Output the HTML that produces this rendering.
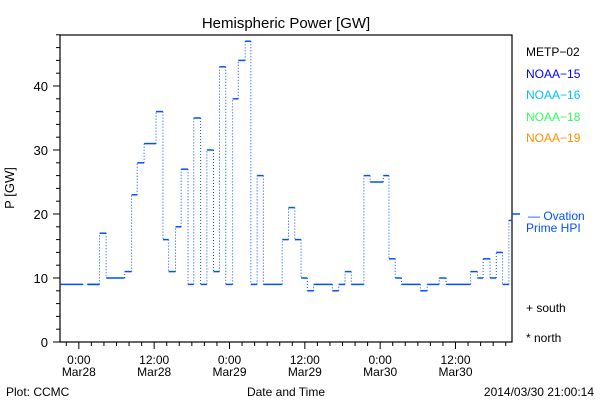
<!DOCTYPE html>
<html><head><meta charset="utf-8"><style>
body{margin:0;background:#fff;}
svg{display:block;font-family:"Liberation Sans","DejaVu Sans",sans-serif;}
</style></head><body>
<svg id="chart" width="600" height="400" viewBox="0 0 600 400">
<text x="286" y="28" text-anchor="middle" font-size="15" fill="#000">Hemispheric Power [GW]</text>
<rect x="60" y="35" width="452" height="307" fill="none" stroke="#000" stroke-width="1.2"/>
<g id="axes"></g>
<g id="series"></g>
<text x="14" y="188" font-size="13" transform="rotate(-90 14 188)" text-anchor="middle">P [GW]</text>
<text x="286" y="396" font-size="12" text-anchor="middle">Date and Time</text>
<text x="6" y="396" font-size="12">Plot: CCMC</text>
<text x="594" y="396" font-size="12" text-anchor="end">2014/03/30 21:00:14</text>
<g font-size="12">
<text x="526" y="56" fill="#000">METP−02</text>
<text x="526" y="78" fill="#0000ff">NOAA−15</text>
<text x="526" y="99" fill="#00c0ff">NOAA−16</text>
<text x="526" y="121" fill="#30ff60">NOAA−18</text>
<text x="526" y="142" fill="#ff9000">NOAA−19</text>
<text x="528" y="220" fill="#0050ff">— Ovation</text>
<text x="526" y="232" fill="#0050ff">Prime HPI</text>
<text x="526" y="312" fill="#000">+ south</text>
<text x="526" y="342" fill="#000">* north</text>
</g>
</svg>
<script>
const starts=[0.1,4.35,6.3,7.35,10.3,11.4,12.3,13.4,15.3,16.4,17.3,18.4,19.3,20.4,21.3,22.4,23.4,24.45,25.4,26.4,27.5,28.4,29.5,30.4,31.4,32.4,35.4,36.4,37.4,38.4,39.4,40.4,43.4,44.4,45.4,46.4,48.4,49.4,51.5,52.4,53.4,54.4,57.4,58.5,60.4,61.5,65.4,66.5,67.4,68.5,69.5,70.5,71.5];
const powers=[9,9,17,10,11,23,28,31,36,16,11,18,27,9,35,9,30,11,43,9,38,44,47,9,26,9,16,21,16,10,8,9,8,9,11,9,26,25,26,13,10,9,8,9,10,9,11,10,13,10,14,9,19];
const firstEnd=3.7, lastEnd=72.1;
const yTicks=[0,10,20,30,40];
const xTickHours=[3,15,27,39,51,63];
const xTickLine1=["0:00","12:00","0:00","12:00","0:00","12:00"];
const xTickLine2=["Mar28","Mar28","Mar29","Mar29","Mar30","Mar30"];
const ovationValue=20;

const NS="http://www.w3.org/2000/svg";
const X=h=>60+h*452/72;
const Y=v=>342-v*6.4;
function mk(t,a,p){const e=document.createElementNS(NS,t);for(const k in a)e.setAttribute(k,a[k]);p.appendChild(e);return e;}
const ax=document.getElementById('axes'), se=document.getElementById('series');
for(let v=0;v<=48;v+=2){
  const major=v%10===0;
  const l=mk('line',{x1:60,x2:major?53:56,y1:Y(v),y2:Y(v),stroke:'#000','stroke-width':1},ax);
  
  
}
yTicks.forEach(v=>{
  const t=mk('text',{x:48,y:Y(v)+5,'font-size':13,'text-anchor':'end'},ax);t.textContent=v;
  
  
});
for(let h=1;h<=72;h+=2){
  const major=(h-3)%12===0;
  const l=mk('line',{x1:X(h),x2:X(h),y1:342,y2:major?349:346,stroke:'#000','stroke-width':1},ax);
  
  
}
xTickHours.forEach((h,i)=>{
  const t=mk('text',{x:X(h),y:364,'font-size':12,'text-anchor':'middle'},ax);t.textContent=xTickLine1[i];
  
  
  const t2=mk('text',{x:X(h),y:376,'font-size':12,'text-anchor':'middle'},ax);t2.textContent=xTickLine2[i];
  
  
});
for(let i=0;i<starts.length;i++){
  const end=i===0?firstEnd:(i<starts.length-1?starts[i+1]:lastEnd);
  const s=mk('line',{x1:X(starts[i]),x2:X(end),y1:Y(powers[i]),y2:Y(powers[i]),stroke:'#0050ff','stroke-width':1.5},se);
  
  
  if(i<starts.length-1 && i>0){
    const c=mk('line',{x1:X(starts[i+1]),x2:X(starts[i+1]),y1:Y(powers[i]),y2:Y(powers[i+1]),stroke:'#0050ff','stroke-width':1,'stroke-dasharray':'1 2'},se);
    
    
  }
  if(i===0){
    const c=mk('line',{x1:X(starts[1]),x2:X(starts[2]),y1:Y(powers[0]),y2:Y(powers[1]),stroke:'#0050ff','stroke-width':1.5},se);
    
    
  }
}
const ov=mk('line',{x1:512,x2:520,y1:Y(ovationValue),y2:Y(ovationValue),stroke:'#0050ff','stroke-width':1.5},se);


</script>
</body></html>
